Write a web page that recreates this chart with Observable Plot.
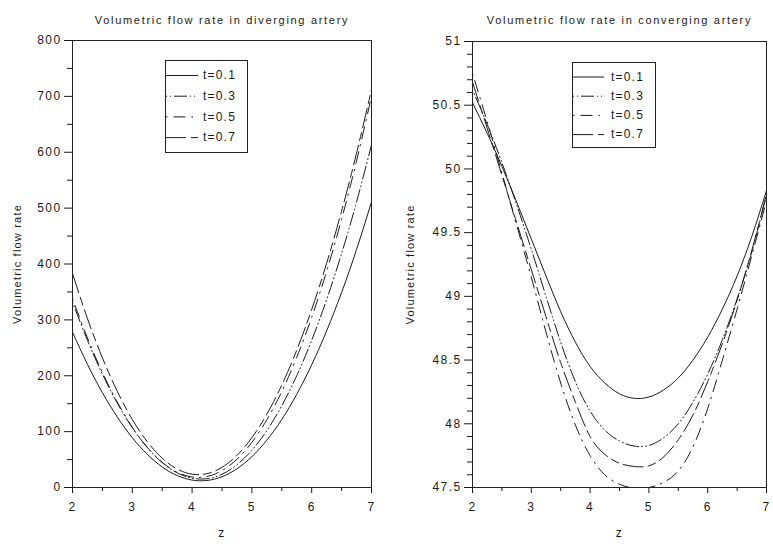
<!DOCTYPE html>
<html>
<head>
<meta charset="utf-8">
<script src="https://cdn.jsdelivr.net/npm/d3@7"></script>
<script src="https://cdn.jsdelivr.net/npm/@observablehq/plot@0.6"></script>
<style>
  html, body { margin: 0; padding: 0; background: white; }
  #wrap { position: relative; width: 773px; height: 547px; display: flex; overflow: hidden; }
  #wrap svg { display: block; }
  #legend { position: absolute; left: 0; top: 0; pointer-events: none; }
</style>
</head>
<body>
<div id="wrap"></div>
<script>
// ---- data ----
const z = [2, 2.25, 2.5, 2.75, 3, 3.25, 3.5, 3.75, 4, 4.25, 4.5, 4.75, 5, 5.25, 5.5, 5.75, 6, 6.25, 6.5, 6.75, 7];
const seriesNames = ["t=0.1", "t=0.3", "t=0.5", "t=0.7"];

// diverging artery
const divT01 = [278, 220.5, 169.7, 126, 89.1, 59.4, 36.8, 21.4, 13.3, 12.6, 19.3, 33.5, 55.3, 84.7, 121.8, 166.8, 219.6, 280.4, 349.1, 426, 511];
const divT03 = [332, 263.5, 203.1, 150.9, 107.1, 71.6, 44.6, 26.2, 16.6, 15.7, 23.7, 40.7, 66.7, 101.9, 146.4, 200.2, 263.5, 336.4, 418.8, 511.1, 613.1];
const divT05 = [338, 267.8, 205.9, 152.6, 107.8, 72.0, 45.0, 27.3, 18.8, 19.7, 30.3, 50.6, 80.9, 121.3, 171.9, 233, 304.6, 387, 480.2, 584.5, 699.9];
const divT07 = [383, 302.4, 232.1, 171.9, 121.8, 82.1, 52.4, 33, 23.8, 24.8, 36.1, 57.5, 89.2, 131.2, 183.4, 245.9, 318.6, 401.5, 494.7, 598.3, 712.1];

// converging artery
const conT01 = [50.52, 50.28, 50.02, 49.74, 49.45, 49.16, 48.88, 48.64, 48.45, 48.32, 48.235, 48.2, 48.21, 48.265, 48.36, 48.5, 48.68, 48.9, 49.16, 49.47, 49.83];
const conT03 = [50.62, 50.35, 50.05, 49.72, 49.37, 49.0, 48.64, 48.33, 48.10, 47.95, 47.865, 47.825, 47.83, 47.89, 48.0, 48.17, 48.39, 48.66, 48.98, 49.35, 49.8];
const conT05 = [50.75, 50.37, 49.97, 49.56, 49.15, 48.72, 48.32, 47.99, 47.75, 47.6, 47.525, 47.495, 47.5, 47.54, 47.63, 47.82, 48.12, 48.5, 48.9, 49.32, 49.75];
const conT07 = [50.68, 50.32, 49.95, 49.58, 49.21, 48.84, 48.48, 48.17, 47.90, 47.76, 47.69, 47.665, 47.67, 47.74, 47.875, 48.07, 48.33, 48.63, 48.97, 49.36, 49.8];

// ticks
const zTicks = [2, 3, 4, 5, 6, 7];
const zMinor = [2.5, 3.5, 4.5, 5.5, 6.5];
const divYTicks = [0, 100, 200, 300, 400, 500, 600, 700, 800];
const divYMinor = [50, 150, 250, 350, 450, 550, 650, 750];
const conYTicks = [47.5, 48, 48.5, 49, 49.5, 50, 50.5, 51];
const conYMinor = [47.6, 47.7, 47.8, 47.9, 48.1, 48.2, 48.3, 48.4, 48.6, 48.7, 48.8, 48.9,
                   49.1, 49.2, 49.3, 49.4, 49.6, 49.7, 49.8, 49.9, 50.1, 50.2, 50.3, 50.4,
                   50.6, 50.7, 50.8, 50.9];

const titles = ["Volumetric flow rate in diverging artery", "Volumetric flow rate in converging artery"];
const yLabel = "Volumetric flow rate";
const xLabel = "z";

// ---- styling ----
const dashes = ["none", "1,3,1,3,13,3", "1.5,6,12,6", "20,5,8,5"];
const FONT = "'Liberation Sans', Arial, Helvetica, sans-serif";
const INK = "#1a1a1a";

function tidy(arrs) {
  return arrs.map((vals, i) => vals.map((v, j) => ({z: z[j], q: v, t: seriesNames[i]})));
}

function makePlot(opts) {
  const series = tidy(opts.series);
  const marks = [
    Plot.axisY({ticks: opts.yMinor, tickSize: 5, tickFormat: () => "", label: null, stroke: INK}),
    Plot.axisY({ticks: opts.yTicks, tickSize: 8, tickPadding: 3, tickFormat: d => String(d), label: null, stroke: INK}),
    Plot.axisX({ticks: zMinor, tickSize: 4, tickFormat: () => "", label: null, stroke: INK}),
    Plot.axisX({ticks: zTicks, tickSize: 6, tickPadding: 9, tickFormat: d => String(d), label: null, stroke: INK}),
    ...series.map((s, i) => Plot.line(s, {
      x: "z", y: "q", stroke: INK, strokeWidth: 1, curve: "natural", clip: true,
      strokeDasharray: dashes[i] === "none" ? undefined : dashes[i]
    })),
    Plot.frame({stroke: "#222", strokeWidth: 1}),
    Plot.text([opts.title], {text: d => d, frameAnchor: "top", dy: opts.titleDy, lineAnchor: "middle", textAnchor: "middle", fontSize: 11, fill: INK}),
    Plot.text([yLabel], {text: d => d, frameAnchor: "left", rotate: -90, dx: opts.yLabelDx, lineAnchor: "middle", textAnchor: "middle", fontSize: 11, fill: INK}),
    Plot.text([xLabel], {text: d => d, frameAnchor: "bottom", dy: 46, lineAnchor: "middle", textAnchor: "middle", fontSize: 12, fill: INK})
  ];
  const svg = Plot.plot({
    width: opts.width, height: 547,
    marginLeft: opts.ml, marginRight: opts.mr, marginTop: opts.mt, marginBottom: 60,
    x: {domain: [2, 7]},
    y: {domain: opts.yDomain},
    style: {fontFamily: FONT, fontSize: "12px", color: INK, background: "white", overflow: "visible", letterSpacing: "1.4px"},
    marks
  });
  // wider tracking for the title, as in the reference
  d3.select(svg).selectAll("text").filter(function() { return this.textContent === opts.title; })
    .style("letter-spacing", "1.7px");
  d3.select(svg).selectAll("text").filter(function() { return this.textContent === yLabel; })
    .style("letter-spacing", "1.2px");
  return svg;
}

const wrap = document.getElementById("wrap");
const left = makePlot({
  width: 390, ml: 72, mr: 19, mt: 40, yDomain: [0, 800],
  yTicks: divYTicks, yMinor: divYMinor, series: [divT01, divT03, divT05, divT07],
  title: titles[0], titleDy: -20, yLabelDx: -55
});
const right = makePlot({
  width: 383, ml: 82, mr: 7, mt: 41, yDomain: [47.5, 51],
  yTicks: conYTicks, yMinor: conYMinor, series: [conT01, conT03, conT05, conT07],
  title: titles[1], titleDy: -21, yLabelDx: -62
});
wrap.appendChild(left);
wrap.appendChild(right);

// ---- legends (overlay) ----
const legendBoxes = [
  {x: 165, y: 60, w: 82, h: 92, rowY: 75, rowH: 20.7, sx1: 166, sx2: 198, tx: 203},
  {x: 572, y: 62, w: 83, h: 85, rowY: 76.5, rowH: 19.2, sx1: 573, sx2: 604, tx: 611}
];
const ov = d3.select(wrap).append("svg").attr("id", "legend").attr("width", 773).attr("height", 547);
legendBoxes.forEach(b => {
  const g = ov.append("g");
  g.append("rect").attr("x", b.x + 0.5).attr("y", b.y + 0.5).attr("width", b.w).attr("height", b.h)
    .attr("fill", "white").attr("stroke", "#222");
  seriesNames.forEach((name, i) => {
    const y = b.rowY + i * b.rowH;
    g.append("line").attr("x1", b.sx1).attr("x2", b.sx2).attr("y1", y + 0.5).attr("y2", y + 0.5)
      .attr("stroke", INK).attr("stroke-width", 1)
      .attr("stroke-dasharray", dashes[i] === "none" ? null : dashes[i]);
    g.append("text").attr("x", b.tx).attr("y", y).attr("dy", "0.35em")
      .attr("font-family", FONT).attr("font-size", 12).attr("letter-spacing", "1.2px")
      .attr("fill", INK).text(name);
  });
});
</script>
</body>
</html>
